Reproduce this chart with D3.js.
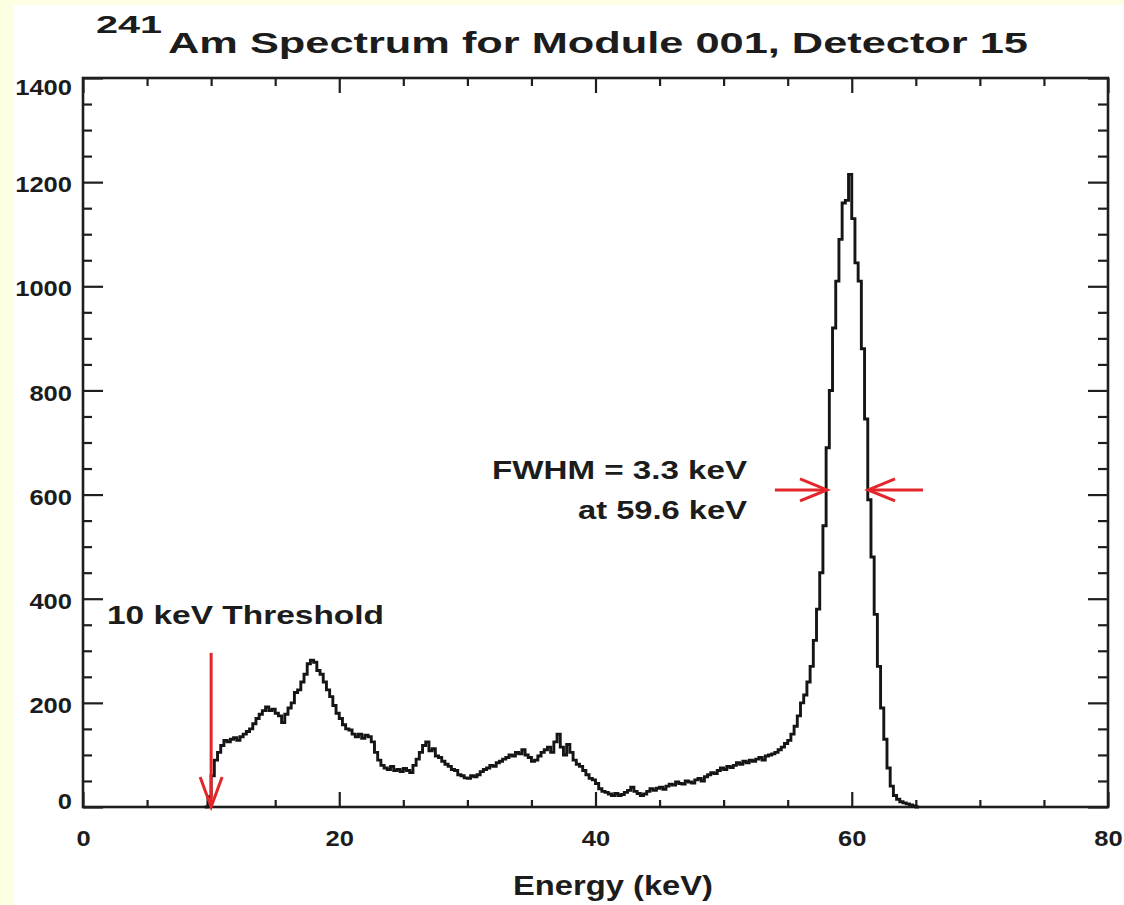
<!DOCTYPE html>
<html>
<head>
<meta charset="utf-8">
<script src="https://cdn.jsdelivr.net/npm/d3@7"></script>
<style>
  html, body { margin: 0; padding: 0; background: #fefee2; }
  svg { display: block; }
  text { font-family: "Liberation Sans", Arial, sans-serif; font-weight: bold; fill: #1c1c1c; }
</style>
</head>
<body>
<svg id="chart" width="1124" height="905"></svg>
<script>
// ---------------- data ----------------
const titleSup = "241";
const titleMain = "Am Spectrum for Module 001, Detector 15";
const xLabel = "Energy (keV)";
const xTicksMajor = [0, 20, 40, 60, 80];
const xTicksMinor = [5, 10, 15, 25, 30, 35, 45, 50, 55, 65, 70, 75];
const yTicksMajor = [0, 200, 400, 600, 800, 1000, 1200, 1400];
const yTicksMinor = [50, 100, 150, 250, 300, 350, 450, 500, 550, 650, 700, 750,
                     850, 900, 950, 1050, 1100, 1150, 1250, 1300, 1350];
const binStart = 9.5;   // keV, first bin edge
const binWidth = 0.25;  // keV
const counts = [
  0, 20, 60, 90, 105, 118, 128, 125, 130, 133, 128, 135,
  140, 145, 150, 160, 170, 178, 185, 192, 185, 188, 180, 175,
  162, 178, 190, 200, 220, 225, 240, 255, 275, 282, 278, 262,
  255, 240, 225, 212, 195, 180, 170, 158, 150, 148, 140, 135,
  140, 132, 138, 135, 125, 105, 90, 80, 75, 72, 78, 70,
  72, 68, 74, 70, 66, 80, 92, 105, 118, 125, 108, 112,
  98, 95, 88, 82, 78, 72, 70, 62, 60, 56, 55, 60,
  58, 62, 68, 72, 75, 80, 78, 85, 88, 92, 95, 100,
  98, 105, 102, 110, 100, 95, 88, 90, 98, 105, 110, 115,
  105, 125, 140, 115, 100, 120, 105, 90, 82, 78, 70, 62,
  55, 52, 45, 35, 30, 28, 25, 22, 26, 22, 24, 28,
  32, 38, 30, 26, 22, 25, 30, 35, 32, 36, 38, 34,
  40, 44, 42, 48, 45, 44, 50, 48, 46, 52, 55, 50,
  58, 62, 66, 64, 70, 75, 72, 78, 76, 80, 85, 82,
  88, 85, 90, 88, 92, 95, 90, 98, 100, 102, 105, 110,
  115, 122, 128, 140, 155, 175, 200, 215, 240, 270, 320, 380,
  450, 540, 690, 800, 920, 1010, 1090, 1160, 1165, 1215, 1130, 1045,
  1010, 880, 745, 590, 480, 370, 270, 190, 130, 75, 40, 22,
  15, 10, 8, 6, 4, 2, 0
];
const thresholdLabel = "10 keV Threshold";
const thresholdEnergy = 10;
const thresholdArrowTop = 296;
const fwhmLines = ["FWHM = 3.3 keV", "at 59.6 keV"];
const fwhmLevel = 609;
const fwhmLeftTip = 58.07, fwhmRightTip = 61.27;
const fwhmLeftTail = 54.0, fwhmRightTail = 65.56;

// ---------------- layout ----------------
const svg = d3.select("#chart");
const plot = { left: 83, right: 1108, top: 78, bottom: 807 };
const x = d3.scaleLinear().domain([0, 80]).range([plot.left, plot.right]);
const y = d3.scaleLinear().domain([0, 1400]).range([plot.bottom, plot.top]);
const ink = "#1e1e1e";
const red = "#e3262a";
const digitW = 14.2;

svg.append("rect").attr("x", 14).attr("y", 5).attr("width", 1110).attr("height", 900).attr("fill", "#ffffff");

function stretchedText(px, py, size, len, str, anchor) {
  return svg.append("text").attr("x", px).attr("y", py).attr("font-size", size)
    .attr("text-anchor", anchor || "start")
    .attr("textLength", len).attr("lengthAdjust", "spacingAndGlyphs").text(str);
}

// title
stretchedText(96, 33, 24, 66, titleSup);
stretchedText(168, 53, 29, 860, titleMain);

// axes
function styleAxis(g) {
  g.select(".domain").remove();
  g.selectAll(".tick line").attr("stroke", ink).attr("stroke-width", 2.2);
}
function styleLabels(g) {
  g.selectAll(".tick text").attr("font-size", 22).attr("fill", ink)
    .style("font-family", "'Liberation Sans', Arial, sans-serif").style("font-weight", "bold")
    .attr("textLength", d => String(d).length * digitW).attr("lengthAdjust", "spacingAndGlyphs");
}
const gx = svg.append("g").attr("transform", `translate(0,${plot.bottom})`)
  .call(d3.axisBottom(x).tickValues(xTicksMajor).tickSize(-15).tickSizeOuter(0).tickPadding(23).tickFormat(d3.format("d")));
styleAxis(gx); styleLabels(gx);
svg.append("g").attr("transform", `translate(0,${plot.bottom})`)
  .call(d3.axisBottom(x).tickValues(xTicksMinor).tickSize(-7).tickFormat("")).call(styleAxis);
svg.append("g").attr("transform", `translate(0,${plot.top})`)
  .call(d3.axisTop(x).tickValues(xTicksMajor).tickSize(-15).tickFormat("")).call(styleAxis);
svg.append("g").attr("transform", `translate(0,${plot.top})`)
  .call(d3.axisTop(x).tickValues(xTicksMinor).tickSize(-8).tickFormat("")).call(styleAxis);

const gy = svg.append("g").attr("transform", `translate(${plot.left},0)`)
  .call(d3.axisLeft(y).tickValues(yTicksMajor).tickSize(-20).tickSizeOuter(0).tickPadding(11).tickFormat(d3.format("d")));
styleAxis(gy); styleLabels(gy);
gy.selectAll(".tick text")
  .attr("dy", d => d === 1400 ? "0.76em" : d === 0 ? "0.06em" : "0.44em");
svg.append("g").attr("transform", `translate(${plot.left},0)`)
  .call(d3.axisLeft(y).tickValues(yTicksMinor).tickSize(-9).tickFormat("")).call(styleAxis);
svg.append("g").attr("transform", `translate(${plot.right},0)`)
  .call(d3.axisRight(y).tickValues(yTicksMajor).tickSize(-20).tickFormat("")).call(styleAxis);
svg.append("g").attr("transform", `translate(${plot.right},0)`)
  .call(d3.axisRight(y).tickValues(yTicksMinor).tickSize(-10).tickFormat("")).call(styleAxis);

svg.append("rect").attr("x", plot.left).attr("y", plot.top)
  .attr("width", plot.right - plot.left).attr("height", plot.bottom - plot.top)
  .attr("fill", "none").attr("stroke", ink).attr("stroke-width", 2.6);

// x label
stretchedText(513, 895, 27, 200, xLabel);

// spectrum
const pts = counts.map((c, i) => [binStart + i * binWidth, c]);
pts.push([binStart + counts.length * binWidth, counts[counts.length - 1]]);
const line = d3.line().x(d => x(d[0])).y(d => y(d[1])).curve(d3.curveStepAfter);
svg.append("path").datum(pts).attr("d", line)
  .attr("fill", "none").attr("stroke", "#151515").attr("stroke-width", 2.9)
  .attr("stroke-linejoin", "miter");

// threshold annotation
stretchedText(107, 624, 26, 277, thresholdLabel);
const tx = x(thresholdEnergy), tyTop = y(thresholdArrowTop), tyTip = y(0);
svg.append("line").attr("x1", tx).attr("x2", tx).attr("y1", tyTop).attr("y2", tyTip)
  .attr("stroke", red).attr("stroke-width", 3);
svg.append("path").attr("d", `M${tx - 11},${tyTip - 30}L${tx},${tyTip}L${tx + 11},${tyTip - 30}`)
  .attr("fill", "none").attr("stroke", red).attr("stroke-width", 3);

// FWHM annotation
stretchedText(747, 479, 26, 255, fwhmLines[0], "end");
stretchedText(747, 519, 26, 169, fwhmLines[1], "end");
const fy = y(fwhmLevel);
const lt = x(fwhmLeftTip), rt = x(fwhmRightTip);
svg.append("line").attr("x1", x(fwhmLeftTail)).attr("x2", lt).attr("y1", fy).attr("y2", fy)
  .attr("stroke", red).attr("stroke-width", 3);
svg.append("path").attr("d", `M${lt - 27},${fy - 11}L${lt},${fy}L${lt - 27},${fy + 11}`)
  .attr("fill", "none").attr("stroke", red).attr("stroke-width", 3);
svg.append("line").attr("x1", x(fwhmRightTail)).attr("x2", rt).attr("y1", fy).attr("y2", fy)
  .attr("stroke", red).attr("stroke-width", 3);
svg.append("path").attr("d", `M${rt + 27},${fy - 11}L${rt},${fy}L${rt + 27},${fy + 11}`)
  .attr("fill", "none").attr("stroke", red).attr("stroke-width", 3);
</script>
</body>
</html>
